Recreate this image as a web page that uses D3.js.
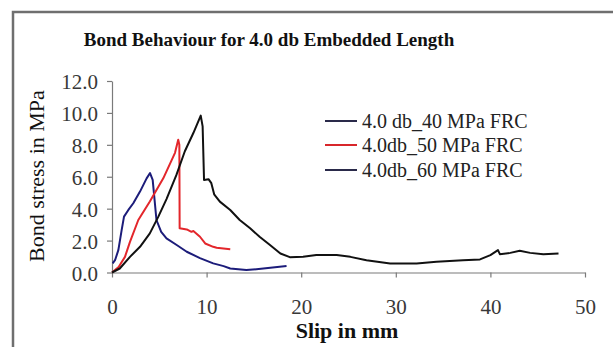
<!DOCTYPE html>
<html>
<head>
<meta charset="utf-8">
<script src="https://cdn.jsdelivr.net/npm/d3@7"></script>
<style>
  body { margin: 0; background: #fff; }
  svg { display: block; font-family: 'Liberation Serif', 'DejaVu Serif', serif; }
</style>
</head>
<body>
<svg width="613" height="347"></svg>
<script>
const seriesNames = ['4.0 db_40 MPa FRC', '4.0db_50 MPa FRC', '4.0db_60 MPa FRC'];
const seriesColors = ['#1c1c7a', '#e3262b', '#111111'];

const slip40 = [0.07, 0.32, 0.67, 1.02, 1.27, 1.73, 2.25, 2.96, 3.66, 4.02, 4.3, 4.5, 4.7, 5.2, 5.76, 6.8, 7.9, 9.3, 10.7, 11.8, 12.5, 14.2, 16.0, 18.45];
const bond40 = [0.57, 0.77, 1.4, 2.66, 3.5, 3.92, 4.34, 5.07, 5.9, 6.23, 5.8, 4.55, 3.29, 2.55, 2.14, 1.74, 1.3, 0.9, 0.57, 0.4, 0.25, 0.15, 0.25, 0.4];

const slip50 = [0, 0.7, 1.37, 1.9, 2.78, 4.0, 5.42, 6.66, 7.0, 7.12, 7.15, 7.9, 8.4, 8.6, 9.3, 9.85, 10.7, 11.06, 12.5];
const bond50 = [0, 0.35, 0.98, 1.92, 3.29, 4.45, 5.9, 7.5, 8.32, 8.0, 2.77, 2.7, 2.55, 2.6, 2.24, 1.82, 1.61, 1.55, 1.45];

const slip60 = [0, 0.82, 1.9, 2.96, 4.0, 4.9, 5.76, 6.8, 7.7, 8.6, 9.38, 9.58, 9.73, 10.2, 10.5, 10.8, 11.4, 12.5, 13.5, 14.6, 15.6, 16.7, 17.8, 18.8, 20.2, 21.6, 23.75, 25.2, 26.9, 29.4, 32.2, 34.3, 37.1, 38.9, 40.0, 40.8, 41.0, 42.1, 43.1, 44.2, 45.6, 47.2];
const bond60 = [0, 0.25, 0.98, 1.61, 2.45, 3.5, 4.6, 6.1, 7.6, 8.74, 9.83, 9.16, 5.8, 5.85, 5.6, 4.9, 4.44, 3.92, 3.29, 2.77, 2.24, 1.72, 1.19, 0.96, 0.98, 1.09, 1.09, 0.98, 0.77, 0.57, 0.57, 0.67, 0.77, 0.82, 1.09, 1.4, 1.15, 1.23, 1.36, 1.23, 1.15, 1.19];

const xTicks = [0, 10, 20, 30, 40, 50];
const yTicks = [0, 2, 4, 6, 8, 10, 12];

const svg = d3.select('svg');

// frame: only the top and left edges show in the picture
svg.append('path')
    .attr('d', 'M13,347 L13,12 L613,12')
    .attr('fill', 'none')
    .attr('stroke', '#6f6f6f')
    .attr('stroke-width', 2.5);

const xScale = d3.scaleLinear().domain([0, 50]).range([112, 585]);
const yScale = d3.scaleLinear().domain([0, 12]).range([272.5, 81]);

const xAxis = d3.axisBottom(xScale)
    .tickValues(xTicks)
    .tickFormat(d3.format('d'))
    .tickSize(5)
    .tickSizeOuter(0)
    .tickPadding(24);

const yAxis = d3.axisLeft(yScale)
    .tickValues(yTicks)
    .tickFormat(d3.format('.1f'))
    .tickSize(5)
    .tickSizeOuter(0)
    .tickPadding(9);

const xAxisG = svg.append('g')
    .attr('transform', `translate(0, ${yScale(0)})`)
    .call(xAxis);

const yAxisG = svg.append('g')
    .attr('transform', `translate(${xScale(0)}, 0)`)
    .call(yAxis);

[xAxisG, yAxisG].forEach(a => {
    a.selectAll('.domain, line').attr('stroke', '#7a7a7a').attr('stroke-width', 1.2);
    a.selectAll('text')
        .attr('fill', '#383838')
        .style('font-family', "'Liberation Serif', serif")
        .style('font-size', '21px');
});
xAxisG.selectAll('text').attr('dy', '0.6em');
yAxisG.selectAll('text').attr('dy', '0.36em');

// series lines
const line = d3.line()
    .x(d => xScale(d[0]))
    .y(d => yScale(d[1]));

const series = [
    d3.zip(slip40, bond40),
    d3.zip(slip50, bond50),
    d3.zip(slip60, bond60)
];

svg.append('g').selectAll('path')
    .data(series)
    .enter().append('path')
    .attr('d', line)
    .attr('fill', 'none')
    .attr('stroke', (d, i) => seriesColors[i])
    .attr('stroke-width', 2)
    .attr('stroke-linejoin', 'round');

// legend
const legend = svg.append('g');
const legendY = [121, 145, 170];
seriesNames.forEach((name, i) => {
    legend.append('line')
        .attr('x1', 325).attr('x2', 357)
        .attr('y1', legendY[i]).attr('y2', legendY[i])
        .attr('stroke', i === 1 ? '#d8262b' : '#2a2a4a')
        .attr('stroke-width', 2);
    legend.append('text')
        .attr('x', 362)
        .attr('y', legendY[i])
        .attr('dy', '0.35em')
        .attr('fill', '#222')
        .style('font-size', '20px')
        .text(name);
});

// titles
svg.append('text')
    .attr('x', 269)
    .attr('y', 46)
    .attr('text-anchor', 'middle')
    .attr('fill', '#111')
    .style('font-size', '19px')
    .style('font-weight', 'bold')
    .text('Bond Behaviour for 4.0 db Embedded Length');

svg.append('text')
    .attr('x', 347)
    .attr('y', 338)
    .attr('text-anchor', 'middle')
    .attr('fill', '#111')
    .style('font-size', '22px')
    .style('font-weight', 'bold')
    .text('Slip in mm');

svg.append('text')
    .attr('transform', 'translate(44, 176) rotate(-90)')
    .attr('text-anchor', 'middle')
    .attr('fill', '#111')
    .style('font-size', '22px')
    .text('Bond stress in MPa');
</script>
</body>
</html>
